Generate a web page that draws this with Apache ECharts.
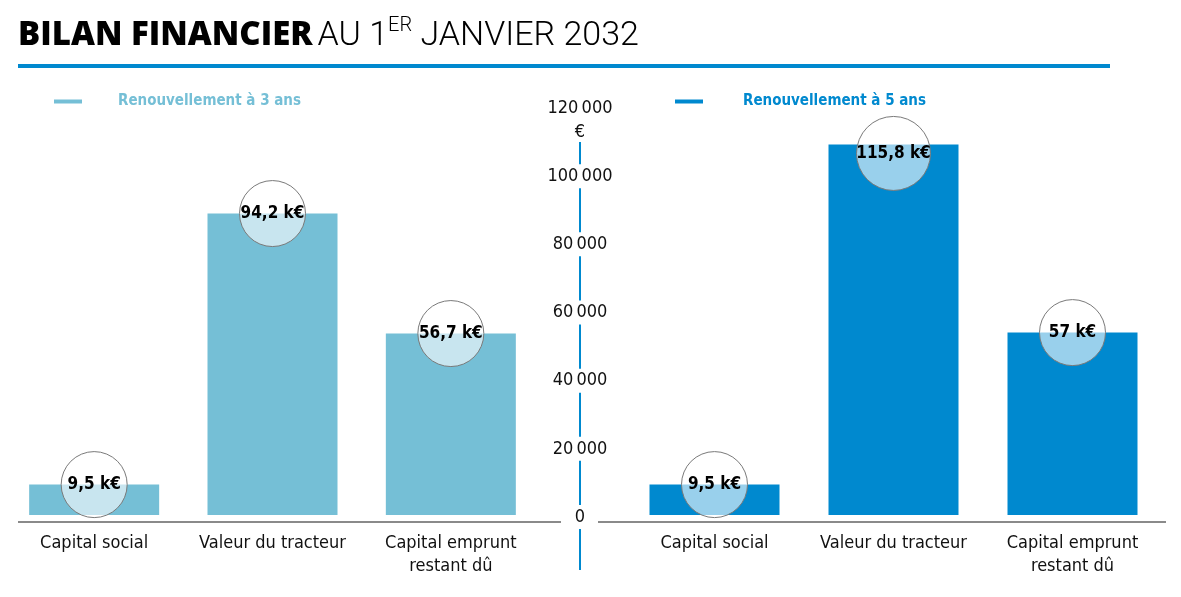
<!DOCTYPE html>
<html>
<head>
<meta charset="utf-8">
<script src="https://cdn.jsdelivr.net/npm/echarts@6/dist/echarts.min.js"></script>
<style>
html,body{margin:0;padding:0;background:#fff;}
#chart{width:1181px;height:597px;}
</style>
</head>
<body>
<div id="chart"></div>
<script>
// ---- data ----
const categories = ['Capital social', 'Valeur du tracteur', 'Capital emprunt\nrestant dû'];
const seriesNames = ['Renouvellement à 3 ans', 'Renouvellement à 5 ans'];
const values3ans = [9500, 94200, 56700];
const values5ans = [9500, 115800, 57000];
const axisTicks = [0, 20000, 40000, 60000, 80000, 100000, 120000];

const NARROW = "'Liberation Sans Narrow','DejaVu Sans Condensed','Roboto Condensed','Liberation Sans',Arial,sans-serif";
const colors = ['#75bfd6', '#0089cf'];

function kLabel(v){
  return Number((v/1000).toFixed(1)).toString().replace('.', ',') + ' k€';
}
function fmtTick(v){
  return String(v).replace(/\B(?=(\d{3})+(?!\d))/g, '\u2009');
}

const chart = echarts.init(document.getElementById('chart'), null, {renderer:'canvas'});

function barSeries(idx){
  return {
    type: 'bar',
    name: seriesNames[idx],
    xAxisIndex: idx, yAxisIndex: idx,
    data: idx === 0 ? values3ans : values5ans,
    barWidth: 130,
    itemStyle: {color: colors[idx]},
    emphasis: {disabled: true},
    z: 2
  };
}
function circles(idx){
  const vals = idx === 0 ? values3ans : values5ans;
  return {
    type: 'scatter',
    name: seriesNames[idx] + ' (étiquettes)',
    xAxisIndex: idx, yAxisIndex: idx,
    // the circle of the tallest bar is nudged down so it stays inside the plot
    data: vals.map(function(v){ return {value: v, symbolOffset: [0, v > 110000 ? 9 : 0]}; }),
    symbol: 'circle',
    symbolSize: function(v){ return kLabel(v).length > 7 ? 74 : 66; },
    itemStyle: {color: 'rgba(255,255,255,0.6)', borderColor: '#7a7a7a', borderWidth: 1, opacity: 1},
    label: {
      show: true, position: 'inside',
      formatter: function(p){ return kLabel(p.value); },
      fontFamily: NARROW, fontWeight: 'bold', fontSize: 17, color: '#000',
      textBorderWidth: 0, textBorderColor: 'transparent'
    },
    labelLayout: function(p){
      return p.value > 110000 ? {dy: 9} : {};
    },
    emphasis: {disabled: true},
    z: 5
  };
}

const catAxis = (gi) => ({
  type: 'category', gridIndex: gi, data: categories,
  axisLine: {show: false}, axisTick: {show: false},
  axisLabel: {fontFamily: NARROW, fontSize: 18, color: '#111', margin: 17, lineHeight: 23, interval: 0}
});
const hiddenVal = (gi) => ({
  type: 'value', gridIndex: gi, min: 0, max: 120000, show: false, splitLine: {show: false}
});

const option = {
  backgroundColor: '#fff',
  animation: false,
  title: {
    left: 18, top: 16, padding: 0,
    text: '{b|BILAN FINANCIER} {r|AU 1}{s|ER}{r| JANVIER 2032}',
    textStyle: {
      rich: {
        b: {fontFamily: "'Open Sans', sans-serif", fontWeight: 800, fontSize: 33, color: '#000', lineHeight: 40},
        r: {fontFamily: 'Roboto, sans-serif', fontWeight: 300, fontSize: 34, color: '#000', lineHeight: 40},
        s: {fontFamily: 'Roboto, sans-serif', fontWeight: 300, fontSize: 20, color: '#000', verticalAlign: 'top', lineHeight: 30}
      }
    }
  },
  legend: [
    {
      data: [{name: seriesNames[0], textStyle: {color: colors[0]}}],
      left: 54, top: 94, padding: 0, itemWidth: 28, itemHeight: 4, icon: 'rect',
      textStyle: {fontFamily: NARROW, fontWeight: 'bold', fontSize: 15, padding: [0,0,0,31]},
      selectedMode: false
    },
    {
      data: [{name: seriesNames[1], textStyle: {color: colors[1]}}],
      left: 675, top: 94, padding: 0, itemWidth: 28, itemHeight: 4, icon: 'rect',
      textStyle: {fontFamily: NARROW, fontWeight: 'bold', fontSize: 15, padding: [0,0,0,35]},
      selectedMode: false
    }
  ],
  grid: [
    {left: 5, right: 641, top: 131, bottom: 82},
    {left: 625, right: 19, top: 131, bottom: 82},
    {left: 580, width: 1, top: 108, bottom: 80}
  ],
  xAxis: [catAxis(0), catAxis(1), {type: 'value', gridIndex: 2, show: false}],
  yAxis: [
    hiddenVal(0), hiddenVal(1),
    {
      type: 'value', gridIndex: 2, min: 0, max: 120000, interval: 20000,
      z: 10,
      name: '€', nameLocation: 'end', nameGap: -24,
      nameTextStyle: {fontFamily: NARROW, fontSize: 18, color: '#111', align: 'center', verticalAlign: 'middle', backgroundColor: '#fff', padding: [0, 4]},
      axisLine: {show: false}, axisTick: {show: false}, splitLine: {show: false},
      axisLabel: {
        margin: 0, align: 'center', verticalAlign: 'middle',
        fontFamily: NARROW, fontSize: 18, color: '#111',
        backgroundColor: '#fff', padding: [3, 5],
        formatter: function(v){ return axisTicks.indexOf(v) >= 0 ? fmtTick(v) : ''; }
      }
    }
  ],
  graphic: [
    {type: 'line', z: 1, shape: {x1: 580, y1: 142, x2: 580, y2: 570}, style: {stroke: '#0089cf', lineWidth: 2}},
    {type: 'line', z: 1, shape: {x1: 18, y1: 522, x2: 561, y2: 522}, style: {stroke: '#8a8a8a', lineWidth: 2}},
    {type: 'line', z: 1, shape: {x1: 598, y1: 522, x2: 1166, y2: 522}, style: {stroke: '#8a8a8a', lineWidth: 2}},
    {type: 'rect', z: 1, shape: {x: 18, y: 64, width: 1092, height: 4}, style: {fill: '#0089cf'}}
  ],
  series: [barSeries(0), circles(0), barSeries(1), circles(1)]
};
chart.setOption(option);
</script>
</body>
</html>
